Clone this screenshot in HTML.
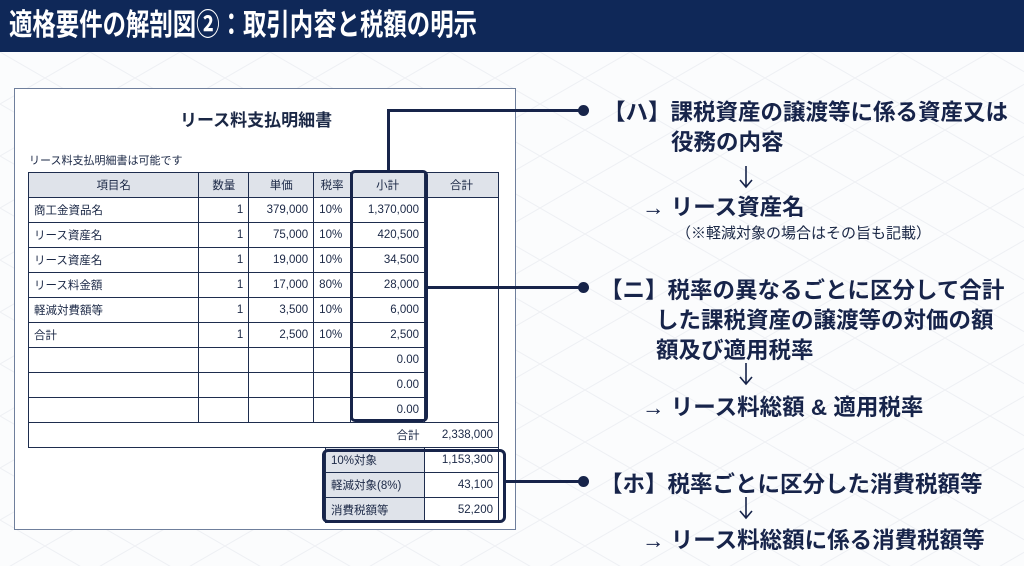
<!DOCTYPE html>
<html><head><meta charset="utf-8"><style>
*{margin:0;padding:0;box-sizing:border-box}
body{width:1024px;height:566px;position:relative;overflow:hidden;background:#fbfcfd;font-family:"Liberation Sans","Noto Sans CJK JP",sans-serif;color:#1a2745}
.bar{position:absolute;left:0;top:0;width:1024px;height:52px;background:#0f2858}
.bar span{position:absolute;left:9px;top:0;color:#fff;font-size:30px;font-weight:bold;line-height:52px;white-space:nowrap;transform:scaleX(0.78);transform-origin:0 50%}
.doc{position:absolute;left:14px;top:88px;width:502px;height:442px;background:#fff;border:1.5px solid #6f7f9c}
.abs{position:absolute}
table{border-collapse:collapse;position:absolute;font-size:11.5px}
td{border:1.3px solid #1e2d4e;height:25px;padding:0 5px;white-space:nowrap}
.h td{background:#dfe3ea;text-align:center;height:25px}
.r{text-align:right}
.t{position:absolute;font-weight:bold;font-size:22.5px;color:#17244a;white-space:nowrap}
.dot{position:absolute;width:11px;height:11px;border-radius:50%;background:#17244a}
.ln{position:absolute;background:#17244a}
</style></head><body>
<svg class="abs" style="left:0;top:52px" width="1024" height="514"><defs><pattern id="p" width="90" height="52" patternUnits="userSpaceOnUse"><path d="M0 0L90 52M90 0L0 52" stroke="#eef0f4" stroke-width="1" fill="none"/></pattern></defs><rect width="1024" height="514" fill="url(#p)"/></svg>
<div class="bar"><span>適格要件の解剖図②：取引内容と税額の明示</span></div>
<div class="doc"></div>
<div class="abs" style="left:180px;top:106px;font-size:17px;font-weight:bold">リース料支払明細書</div>
<div class="abs" style="left:29px;top:152px;font-size:11px">リース料支払明細書は可能です</div>
<table style="left:28px;top:172px;width:471px">
<colgroup><col style="width:171px"><col style="width:50px"><col style="width:65px"><col style="width:37px"><col style="width:74px"><col style="width:74px"></colgroup>
<tr class="h"><td>項目名</td><td>数量</td><td>単価</td><td>税率</td><td>小計</td><td>合計</td></tr>
<tr><td>商工金資品名</td><td class="r">1</td><td class="r">379,000</td><td>10%</td><td class="r">1,370,000</td><td rowspan="9" style="border-bottom:none"></td></tr>
<tr><td>リース資産名</td><td class="r">1</td><td class="r">75,000</td><td>10%</td><td class="r">420,500</td></tr>
<tr><td>リース資産名</td><td class="r">1</td><td class="r">19,000</td><td>10%</td><td class="r">34,500</td></tr>
<tr><td>リース料金額</td><td class="r">1</td><td class="r">17,000</td><td>80%</td><td class="r">28,000</td></tr>
<tr><td>軽減対費額等</td><td class="r">1</td><td class="r">3,500</td><td>10%</td><td class="r">6,000</td></tr>
<tr><td>合計</td><td class="r">1</td><td class="r">2,500</td><td>10%</td><td class="r">2,500</td></tr>
<tr><td></td><td></td><td></td><td></td><td class="r">0.00</td></tr>
<tr><td></td><td></td><td></td><td></td><td class="r">0.00</td></tr>
<tr><td></td><td></td><td></td><td></td><td class="r">0.00</td></tr>
<tr><td colspan="5" class="r" style="border-right:none">合計</td><td class="r" style="border-left:none">2,338,000</td></tr>
</table>
<table style="left:325px;top:447px;width:174px">
<colgroup><col style="width:100px"><col style="width:74px"></colgroup>
<tr><td style="background:#dfe3ea;height:24px">10%対象</td><td class="r">1,153,300</td></tr>
<tr><td style="background:#dfe3ea;height:24px">軽減対象(8%)</td><td class="r">43,100</td></tr>
<tr><td style="background:#dfe3ea;height:24px">消費税額等</td><td class="r">52,200</td></tr>
</table>
<div class="abs" style="left:350px;top:170px;width:78px;height:252px;border:3px solid #17244a;border-radius:5px"></div>
<div class="abs" style="left:322px;top:449px;width:184px;height:74px;border:3px solid #17244a;border-radius:6px"></div>
<div class="ln" style="left:387px;top:109px;width:3px;height:62px"></div>
<div class="ln" style="left:387px;top:109px;width:197px;height:3px"></div>
<div class="ln" style="left:428px;top:286px;width:156px;height:3px"></div>
<div class="ln" style="left:506px;top:480px;width:78px;height:3px"></div>
<div class="dot" style="left:578px;top:105px"></div>
<div class="dot" style="left:578px;top:282px"></div>
<div class="dot" style="left:578px;top:476px"></div>
<svg class="abs" style="left:738px;top:165px" width="16" height="24"><path d="M8 1V22M2 15L8 22L14 15" stroke="#17244a" stroke-width="1.6" fill="none"/></svg>
<svg class="abs" style="left:738px;top:362px" width="16" height="24"><path d="M8 1V22M2 15L8 22L14 15" stroke="#17244a" stroke-width="1.6" fill="none"/></svg>
<svg class="abs" style="left:738px;top:496px" width="16" height="24"><path d="M8 1V22M2 15L8 22L14 15" stroke="#17244a" stroke-width="1.6" fill="none"/></svg>
<div class="t" style="left:603px;top:95px">【ハ】課税資産の譲渡等に係る資産又は</div>
<div class="t" style="left:671px;top:125px">役務の内容</div>
<div class="t" style="left:642px;top:190px">→ リース資産名</div>
<div class="abs" style="left:676px;top:222px;font-size:15px;white-space:nowrap">（※軽減対象の場合はその旨も記載）</div>
<div class="t" style="left:600px;top:273px">【ニ】税率の異なるごとに区分して合計</div>
<div class="t" style="left:656px;top:303px">した課税資産の譲渡等の対価の額</div>
<div class="t" style="left:656px;top:333px">額及び適用税率</div>
<div class="t" style="left:642px;top:390px">→ リース料総額 &amp; 適用税率</div>
<div class="t" style="left:600px;top:467px">【ホ】税率ごとに区分した消費税額等</div>
<div class="t" style="left:642px;top:523px">→ リース料総額に係る消費税額等</div>
</body></html>
